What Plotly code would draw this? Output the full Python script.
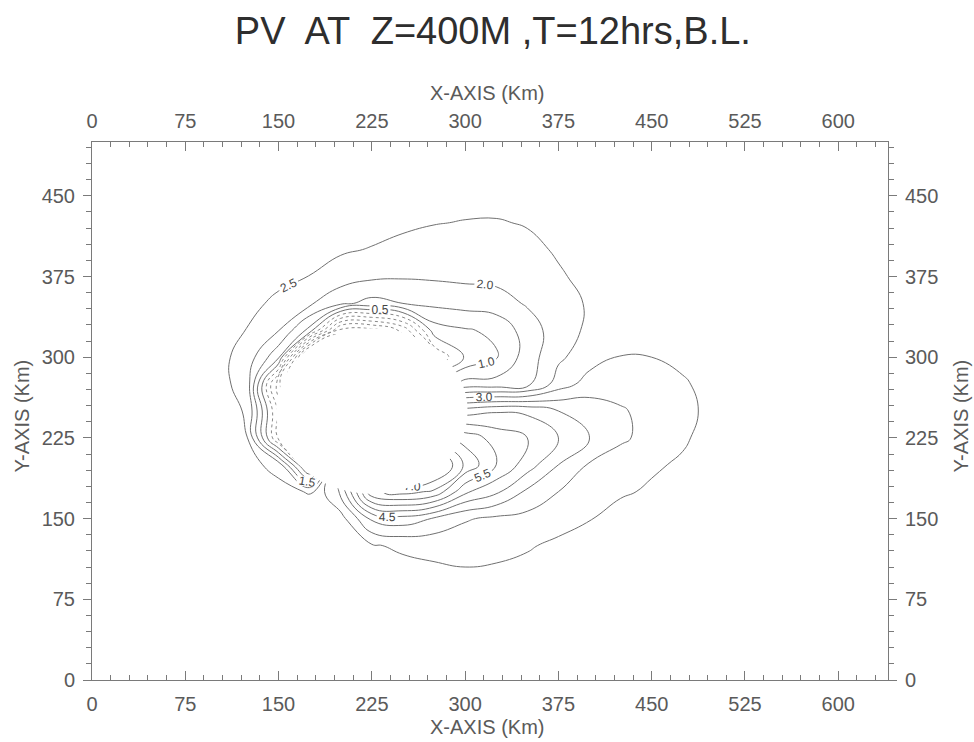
import plotly.graph_objects as go

# Grid of the potential-vorticity field (km); values
x_km = [75, 100, 125, 150, 175, 200, 225, 250, 275, 300, 325, 350, 375, 400, 425, 450, 475, 500, 525]
y_km = [50, 75, 100, 125, 150, 175, 200, 225, 250, 275, 300, 325, 350, 375, 400, 425, 450, 475]

pv = [
    [2.75, 2.75, 2.75, 2.75, 2.75, 2.75, 2.75, 2.75, 2.75, 2.75, 2.75, 2.75, 2.75, 2.75, 2.75, 2.75, 2.75, 2.75, 2.75],
    [2.75, 2.75, 2.75, 2.75, 2.75, 2.75, 2.75, 2.75, 2.75, 2.75, 2.75, 2.75, 2.75, 2.75, 2.75, 2.75, 2.75, 2.75, 2.75],
    [2.75, 2.75, 2.75, 2.75, 2.75, 2.75, 2.75, 2.80, 2.90, 2.95, 2.92, 2.85, 2.80, 2.75, 2.75, 2.75, 2.75, 2.75, 2.75],
    [2.75, 2.75, 2.75, 2.75, 2.75, 2.75, 2.95, 3.10, 3.15, 3.20, 3.15, 3.05, 2.90, 2.80, 2.75, 2.75, 2.75, 2.75, 2.75],
    [2.75, 2.75, 2.75, 2.75, 2.75, 2.80, 4.10, 4.30, 3.95, 3.55, 3.40, 3.35, 3.20, 3.02, 2.85, 2.78, 2.75, 2.75, 2.75],
    [2.75, 2.75, 2.75, 2.70, 2.45, 3.60, 6.40, 6.70, 6.40, 5.10, 4.60, 3.90, 3.50, 3.20, 3.05, 2.95, 2.80, 2.75, 2.75],
    [2.75, 2.75, 2.69, 2.30, -0.50, 3.50, 6.50, 7.90, 7.90, 6.40, 5.50, 4.75, 4.00, 3.45, 3.20, 3.05, 2.95, 2.80, 2.75],
    [2.75, 2.75, 2.50, -0.60, -1.50, 1.00, 4.00, 5.50, 6.20, 5.80, 5.30, 5.00, 4.50, 4.00, 3.60, 3.30, 3.05, 2.85, 2.78],
    [2.75, 2.74, 2.45, -0.60, -2.00, -1.00, 1.00, 3.00, 4.20, 4.25, 4.45, 4.40, 4.00, 3.80, 3.55, 3.35, 3.10, 2.90, 2.80],
    [2.75, 2.72, 2.25, -1.40, -3.50, -3.50, -2.00, -0.50, 1.00, 1.70, 1.70, 1.85, 2.75, 3.20, 3.30, 3.20, 3.05, 2.85, 2.75],
    [2.75, 2.68, 2.28, 1.10, -4.50, -4.00, -2.50, -2.00, -0.50, 0.55, 0.95, 1.75, 2.40, 2.80, 3.02, 3.00, 2.90, 2.80, 2.75],
    [2.75, 2.73, 2.48, 2.02, 0.83, -2.20, -2.20, -1.40, 0.75, 0.95, 1.10, 1.75, 2.25, 2.60, 2.75, 2.75, 2.75, 2.75, 2.75],
    [2.75, 2.75, 2.64, 2.39, 2.08, 1.62, 1.33, 1.50, 1.62, 1.70, 1.79, 2.05, 2.31, 2.55, 2.70, 2.75, 2.75, 2.75, 2.75],
    [2.75, 2.75, 2.75, 2.63, 2.49, 2.24, 2.10, 2.05, 2.07, 2.11, 2.13, 2.21, 2.45, 2.62, 2.75, 2.75, 2.75, 2.75, 2.75],
    [2.75, 2.75, 2.75, 2.75, 2.70, 2.57, 2.47, 2.32, 2.28, 2.29, 2.29, 2.39, 2.55, 2.70, 2.75, 2.75, 2.75, 2.75, 2.75],
    [2.75, 2.75, 2.75, 2.75, 2.75, 2.75, 2.70, 2.62, 2.52, 2.48, 2.47, 2.53, 2.66, 2.75, 2.75, 2.75, 2.75, 2.75, 2.75],
    [2.75, 2.75, 2.75, 2.75, 2.75, 2.75, 2.75, 2.73, 2.70, 2.66, 2.66, 2.72, 2.75, 2.75, 2.75, 2.75, 2.75, 2.75, 2.75],
    [2.75, 2.75, 2.75, 2.75, 2.75, 2.75, 2.75, 2.75, 2.75, 2.75, 2.75, 2.75, 2.75, 2.75, 2.75, 2.75, 2.75, 2.75, 2.75],
]

# Masked core (no data inside this circle)
core_x, core_y, core_r = 225, 250, 77

FONT = "Liberation Sans, Arial, sans-serif"
LINE = "#707070"
AXIS = "#7a7a7a"
TEXT = "#5a5a5a"


def contour_set(start, end, step, labelled, dash="solid", color=LINE, width=1.0):
    return go.Contour(
        x=x_km, y=y_km, z=pv,
        autocontour=False,
        contours=dict(
            coloring="none", start=start, end=end, size=step,
            showlabels=labelled, labelformat=".1f",
            labelfont=dict(family=FONT, size=12, color="#444444"),
        ),
        line=dict(color=color, width=width, dash=dash, smoothing=1.3),
        showscale=False, hoverinfo="skip",
    )


fig = go.Figure()
# negative values: dotted
fig.add_trace(contour_set(-4.0, 0.0, 1.0, False, dash="dot", color="#8a8a8a"))
fig.add_trace(contour_set(-2.5, -0.5, 2.0, False, dash="dot", color="#8a8a8a"))
fig.add_trace(contour_set(-3.5, -1.5, 2.0, True, dash="dot", color="#8a8a8a"))
# positive values: solid
fig.add_trace(contour_set(0.5, 2.5, 0.5, True))
fig.add_trace(contour_set(3.0, 7.0, 4.0, True))
fig.add_trace(contour_set(3.5, 6.5, 1.0, True))
fig.add_trace(contour_set(4.0, 6.0, 1.0, False))
# carrier for the top / right axes
fig.add_trace(go.Scatter(x=[], y=[], xaxis="x2", yaxis="y2", showlegend=False, hoverinfo="skip"))

tickfont = dict(family=FONT, size=20, color=TEXT)
common_x = dict(range=[0, 640], tickmode="linear", tick0=0, dtick=75,
                showline=True, linecolor=AXIS, linewidth=1, showgrid=False, zeroline=False,
                ticks="inside", ticklen=9, tickcolor=AXIS, tickwidth=1,
                minor=dict(dtick=15, ticks="inside", ticklen=5, tickcolor=AXIS, showgrid=False),
                tickfont=tickfont)
common_y = dict(range=[0, 500], tickmode="linear", tick0=0, dtick=75,
                showline=True, linecolor=AXIS, linewidth=1, showgrid=False, zeroline=False,
                ticks="outside", ticklen=8, tickcolor=AXIS, tickwidth=1,
                minor=dict(dtick=15, ticks="outside", ticklen=5, tickcolor=AXIS, showgrid=False),
                tickfont=tickfont, ticklabelstandoff=4)

axis_title_font = dict(family=FONT, size=20, color=TEXT)

fig.update_layout(
    width=974, height=742,
    margin=dict(l=92, r=86, t=142, b=62),
    paper_bgcolor="white", plot_bgcolor="white",
    showlegend=False,
    title=dict(text="PV  AT  Z=400M ,T=12hrs,B.L.", x=0.506, xanchor="center",
               y=1 - 31 / 742, yanchor="middle", yref="container",
               font=dict(family=FONT, size=38, color="#2e2e2e")),
    xaxis=dict(common_x, side="bottom", anchor="y", ticklabelstandoff=6),
    xaxis2=dict(common_x, side="top", overlaying="x", anchor="y", ticklabelstandoff=5),
    yaxis=dict(common_y, side="left", anchor="x"),
    yaxis2=dict(common_y, side="right", overlaying="y", anchor="x"),
    shapes=[dict(type="circle", xref="x", yref="y", layer="above",
                 x0=core_x - core_r, x1=core_x + core_r,
                 y0=core_y - core_r, y1=core_y + core_r,
                 fillcolor="white", line=dict(width=0))],
    annotations=[
        dict(text="X-AXIS (Km)", xref="paper", yref="paper", x=0.496, y=0, yshift=-47,
             xanchor="center", yanchor="middle", showarrow=False, font=axis_title_font),
        dict(text="X-AXIS (Km)", xref="paper", yref="paper", x=0.496, y=1, yshift=49,
             xanchor="center", yanchor="middle", showarrow=False, font=axis_title_font),
        dict(text="Y-AXIS (Km)", xref="paper", yref="paper", x=0, y=0.49, xshift=-70,
             xanchor="center", yanchor="middle", textangle=-90, showarrow=False,
             font=axis_title_font),
        dict(text="Y-AXIS (Km)", xref="paper", yref="paper", x=1, y=0.49, xshift=73,
             xanchor="center", yanchor="middle", textangle=-90, showarrow=False,
             font=axis_title_font),
    ],
)

fig.write_html("out.html")
